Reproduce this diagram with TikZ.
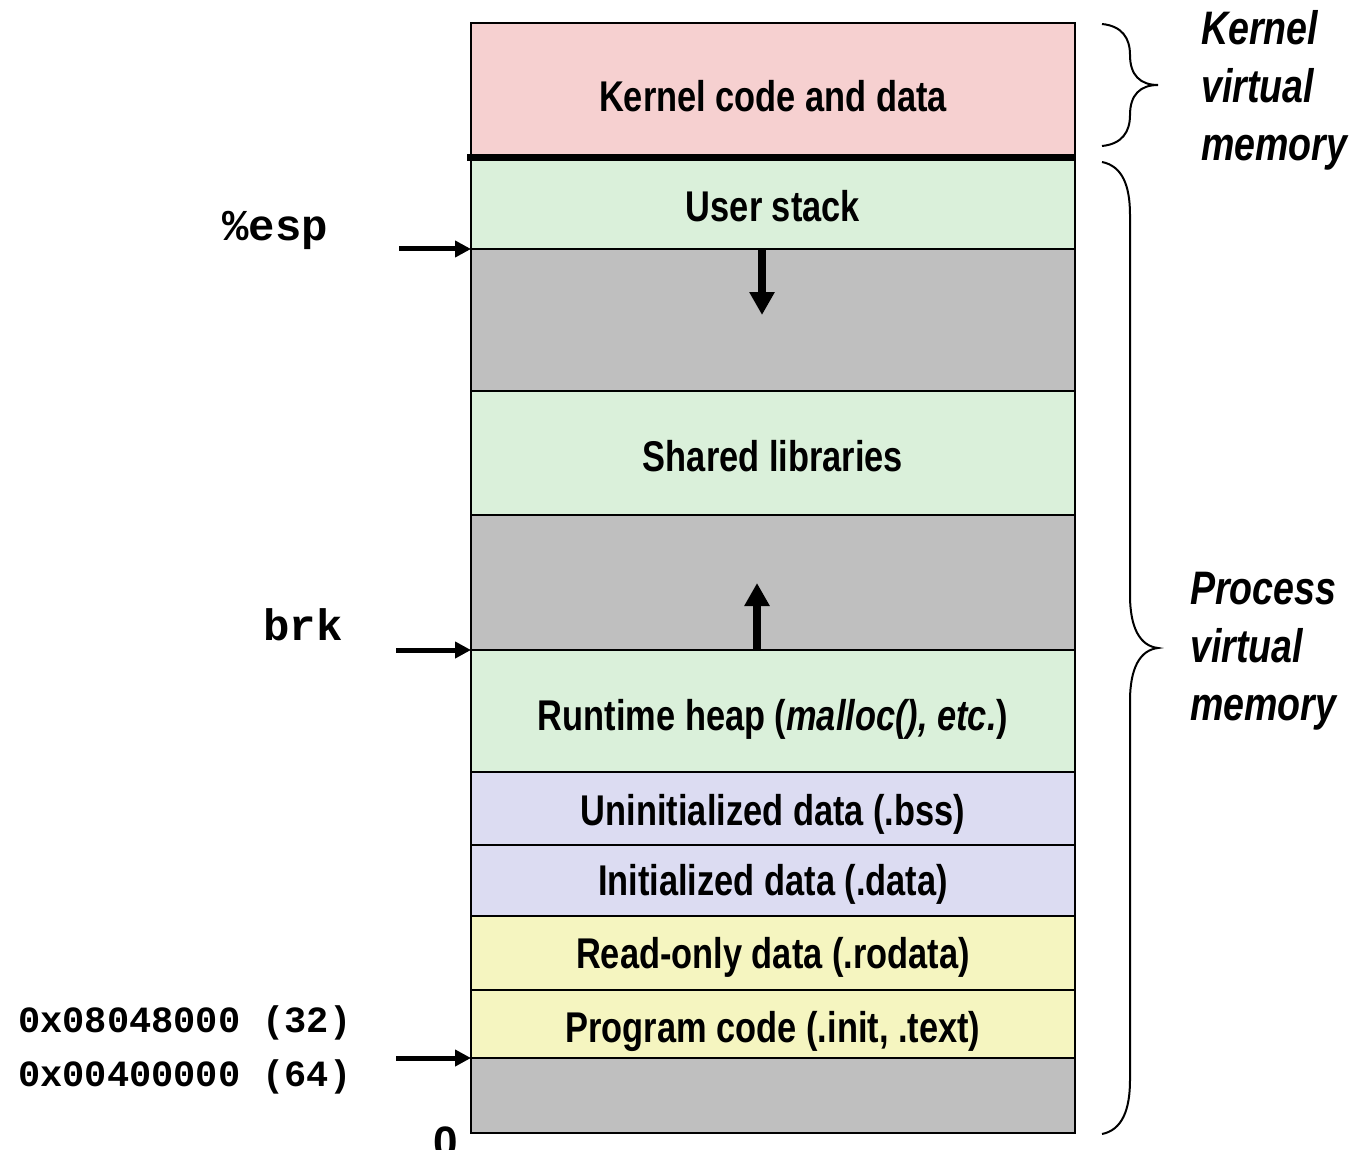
\documentclass[tikz,border=0pt]{standalone}
\usepackage{fontspec}
\setmainfont{Liberation Sans}
\newfontfamily\narrowsf[FakeStretch=0.8]{Liberation Sans}
\newfontfamily\codett{Liberation Mono}
\usetikzlibrary{arrows.meta}

\definecolor{kernelpink}{RGB}{246,208,208}
\definecolor{usergreen}{RGB}{218,240,218}
\definecolor{gapgray}{RGB}{191,191,191}
\definecolor{datalav}{RGB}{220,220,242}
\definecolor{codeyellow}{RGB}{245,245,192}

\tikzset{
  region/.style={draw, line width=2pt, minimum width=604pt, inner sep=0pt, outer sep=0pt},
  seglabel/.style={font=\narrowsf\bfseries\fontsize{43}{50}\selectfont, inner sep=0pt, anchor=base},
  addr/.style={font=\codett\bfseries\fontsize{37}{44}\selectfont, inner sep=0pt, anchor=base west},
  reg/.style={font=\codett\bfseries\fontsize{44}{52}\selectfont, inner sep=0pt, anchor=base west},
  side/.style={font=\narrowsf\bfseries\itshape\fontsize{47}{58}\selectfont, inner sep=0pt, align=left, anchor=north west},
  ptr/.style={line width=5pt, -{Triangle[length=16pt,width=16pt]}},
  growarrow/.style={line width=8pt, -{Triangle[length=23pt,width=24pt]}},
  brace/.style={line width=2pt},
  kline/.style={line width=7pt},
}

\begin{document}
\begin{tikzpicture}[x=1pt,y=-1pt]
\useasboundingbox (0,0) rectangle (1359,1150);

% memory regions, top (high addresses) to bottom (address 0)
\node[region, fill=kernelpink, minimum height=135pt] (kernel) at (773,90.5) {};
\node[region, fill=usergreen,  minimum height=91pt]  (ustack) at (773,203.5) {};
\node[region, fill=gapgray,    minimum height=142pt] (gap1)   at (773,320) {};
\node[region, fill=usergreen,  minimum height=124pt] (shlib)  at (773,453) {};
\node[region, fill=gapgray,    minimum height=135pt] (gap2)   at (773,582.5) {};
\node[region, fill=usergreen,  minimum height=122pt] (heap)   at (773,711) {};
\node[region, fill=datalav,    minimum height=73pt]  (bss)    at (773,808.5) {};
\node[region, fill=datalav,    minimum height=71pt]  (data)   at (773,880.5) {};
\node[region, fill=codeyellow, minimum height=74pt]  (rodata) at (773,953) {};
\node[region, fill=codeyellow, minimum height=68pt]  (ptext)  at (773,1024) {};
\node[region, fill=gapgray,    minimum height=75pt]  (gap0)   at (773,1095.5) {};

% boundary between kernel and user space
\draw[kline] ([xshift=-4pt]kernel.south west) -- (kernel.south east);

% region labels
\node[seglabel] (lkernel) at (773,112)  {Kernel code and data};
\node[seglabel] (lstack)  at (773,222)  {User stack};
\node[seglabel] (lshlib)  at (773,471)  {Shared libraries};
\node[seglabel] (lheap)   at (773,730)  {Runtime heap (\textit{malloc(), etc.})};
\node[seglabel] (lbss)    at (773,825)  {Uninitialized data (.bss)};
\node[seglabel] (ldata)   at (773,895)  {Initialized data (.data)};
\node[seglabel] (lrodata) at (773,968)  {Read-only data (.rodata)};
\node[seglabel] (ltext)   at (773,1042) {Program code (.init, .text)};

% growth directions of stack and heap
\coordinate (stacktip) at (762,315);
\draw[growarrow] (ustack.south -| stacktip) -- (stacktip);
\coordinate (heaptip) at (757,583);
\draw[growarrow] (heap.north -| heaptip) -- (heaptip);

% pointers on the left
\node[reg] (esp) at (222,241) {\%esp};
\node[reg] (brk) at (263,640) {brk};
\node[addr] (a32) at (18,1032) {0x08048000 (32)};
\node[addr] (a64) at (18,1086) {0x00400000 (64)};
\node[font=\bfseries\fontsize{44}{50}\selectfont, inner sep=0pt, anchor=base west] (zero) at (433,1157) {0};

\coordinate (espfrom) at (399,249);
\draw[ptr] (espfrom) -- (gap1.north west);
\coordinate (brkfrom) at (396,650);
\draw[ptr] (brkfrom) -- (heap.north west);
\coordinate (textfrom) at (396,1058);
\draw[ptr] (textfrom) -- (gap0.north west);

% braces on the right
\draw[brace] (1102,24) .. controls (1122,26) and (1130,38) .. (1130,55)
  .. controls (1130,75) and (1140,85) .. (1158,85)
  .. controls (1140,85) and (1130,95) .. (1130,115)
  .. controls (1130,132) and (1122,144) .. (1102,146);
\draw[brace] (1102,162) .. controls (1122,166) and (1130,185) .. (1130,215)
  -- (1130,595) .. controls (1130,628) and (1140,646) .. (1158,648)
  .. controls (1140,650) and (1130,668) .. (1130,701)
  -- (1130,1080) .. controls (1130,1110) and (1122,1130) .. (1102,1134);

\node[side] (kvm) at (1201,10)  {Kernel\\virtual\\memory};
\node[side] (pvm) at (1190,572) {Process\\virtual\\memory};
\end{tikzpicture}
\end{document}
